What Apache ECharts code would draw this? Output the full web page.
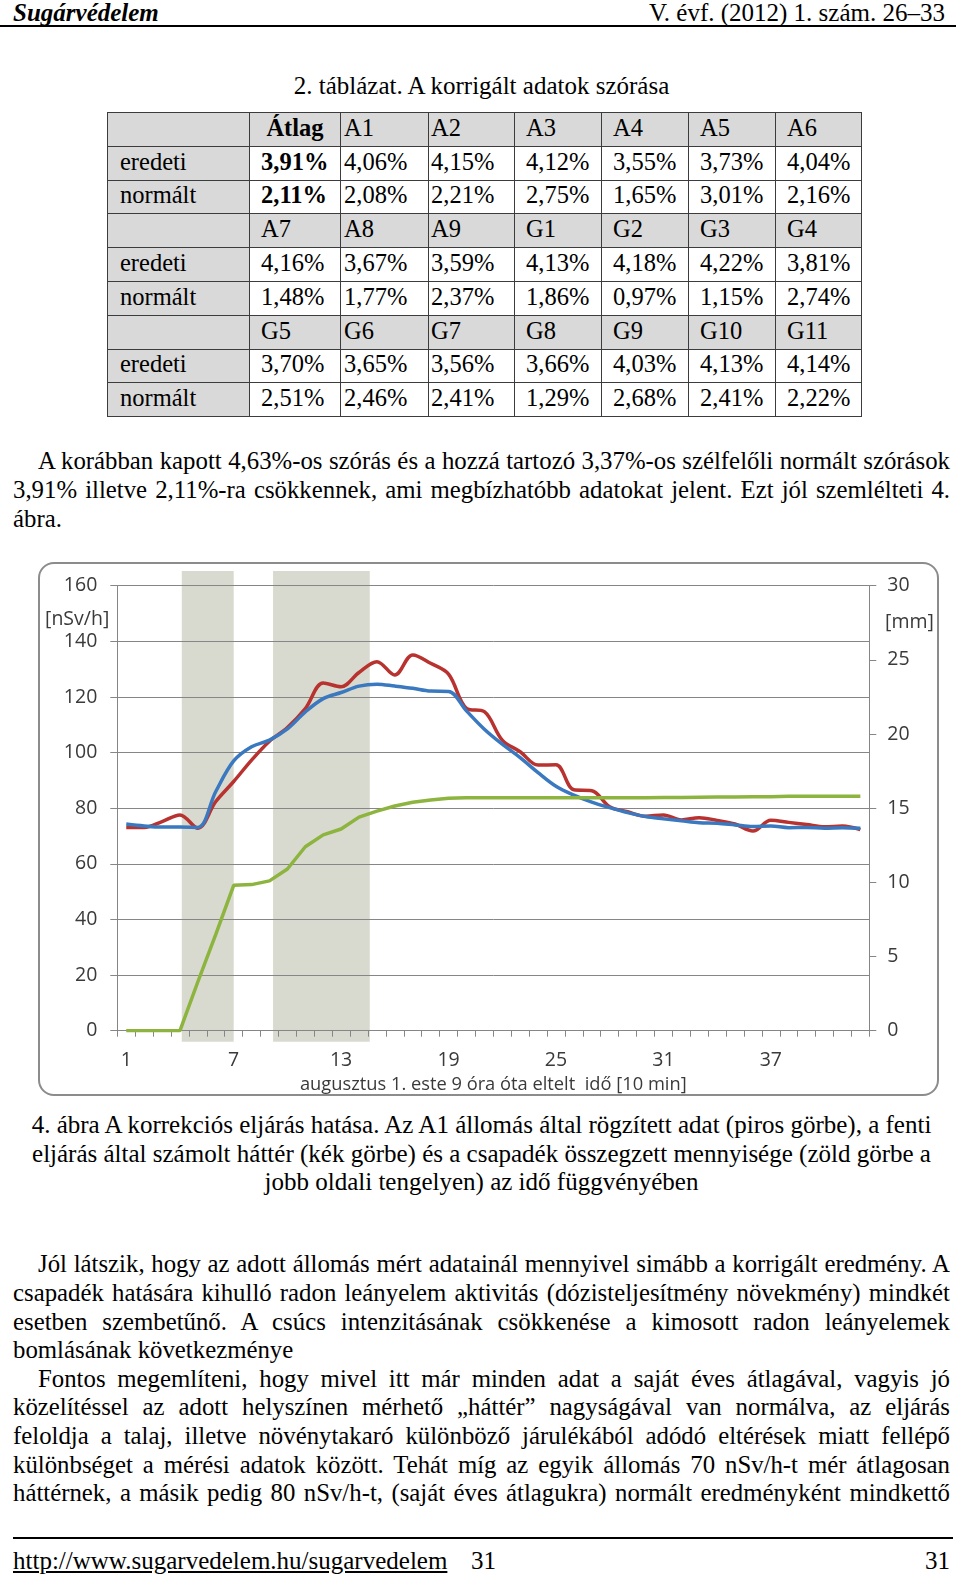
<!DOCTYPE html>
<html>
<head>
<meta charset="utf-8">
<script src="https://cdn.jsdelivr.net/npm/echarts@6/dist/echarts.min.js"></script>
<style>
  html, body { margin:0; padding:0; background:#fff; }
  #page { position:relative; width:960px; height:1576px; overflow:hidden; font-family:"Liberation Serif","Times New Roman",serif; color:#000; }
  .abs { position:absolute; white-space:nowrap; }
  .t { font-size:25px; line-height:29px; }
  .line { position:absolute; left:13px; width:937px; font-size:24.8px; line-height:29px; text-align:justify; text-align-last:justify; white-space:nowrap; word-spacing:-2px; }
  .line.ind { left:38px; width:912px; }
  .line.last { text-align-last:left; word-spacing:0; }
  .center { position:absolute; left:13px; width:937px; font-size:25px; line-height:29px; text-align:center; white-space:nowrap; }
  table { position:absolute; left:107px; top:112px; border-collapse:collapse; font-size:24.5px; }
  tr { height:33.8px; }
  td { border:1.5px solid #3c3c3c; padding:0 0 3px 0; line-height:28px; vertical-align:middle; white-space:nowrap; }
  td.g { background:#d9d9d9; }
  td.b { font-weight:bold; }
  #chart { position:absolute; left:39px; top:561px; width:897px; height:535px; }
  #frame { position:absolute; left:38px; top:562px; width:901px; height:534px; box-sizing:border-box; border:2px solid #8c8c8c; border-radius:16px; pointer-events:none; }
</style>
</head>
<body>
<div id="page">
  <div class="abs t" style="left:13px; top:-2px; font-weight:bold; font-style:italic;">Sugárvédelem</div>
  <div class="abs t" style="right:15px; top:-2px;">V. évf. (2012) 1. szám. 26–33</div>
  <div class="abs" style="left:0; top:25px; width:956px; height:1.5px; background:#000;"></div>

  <div class="center" style="top:71px;">2. táblázat. A korrigált adatok szórása</div>
  <table id="tbl"></table>

  <div class="line ind" style="top:446px;">A korábban kapott 4,63%-os szórás és a hozzá tartozó 3,37%-os szélfelőli normált szórások</div>
  <div class="line" style="top:475px;">3,91% illetve 2,11%-ra csökkennek, ami megbízhatóbb adatokat jelent. Ezt jól szemlélteti 4.</div>
  <div class="line last" style="top:504px;">ábra.</div>

  <div id="chart"></div>
  <div id="frame"></div>

  <div class="center" style="top:1110px;">4. ábra A korrekciós eljárás hatása. Az A1 állomás által rögzített adat (piros görbe), a fenti</div>
  <div class="center" style="top:1139px;">eljárás által számolt háttér (kék görbe) és a csapadék összegzett mennyisége (zöld görbe a</div>
  <div class="center" style="top:1167px;">jobb oldali tengelyen) az idő függvényében</div>

  <div class="line ind" style="top:1249px;">Jól látszik, hogy az adott állomás mért adatainál mennyivel simább a korrigált eredmény. A</div>
  <div class="line" style="top:1278px;">csapadék hatására kihulló radon leányelem aktivitás (dózisteljesítmény növekmény) mindkét</div>
  <div class="line" style="top:1307px;">esetben szembetűnő. A csúcs intenzitásának csökkenése a kimosott radon leányelemek</div>
  <div class="line last" style="top:1335px;">bomlásának következménye</div>
  <div class="line ind" style="top:1364px;">Fontos megemlíteni, hogy mivel itt már minden adat a saját éves átlagával, vagyis jó</div>
  <div class="line" style="top:1392px;">közelítéssel az adott helyszínen mérhető „háttér” nagyságával van normálva, az eljárás</div>
  <div class="line" style="top:1421px;">feloldja a talaj, illetve növénytakaró különböző járulékából adódó eltérések miatt fellépő</div>
  <div class="line" style="top:1450px;">különbséget a mérési adatok között. Tehát míg az egyik állomás 70 nSv/h-t mér átlagosan</div>
  <div class="line" style="top:1478px;">háttérnek, a másik pedig 80 nSv/h-t, (saját éves átlagukra) normált eredményként mindkettő</div>

  <div class="abs" style="left:13px; top:1537px; width:940px; height:1.5px; background:#000;"></div>
  <div class="abs t" style="left:13px; top:1546px; text-decoration:underline;">http://www.sugarvedelem.hu/sugarvedelem</div>
  <div class="abs t" style="left:471px; top:1546px;">31</div>
  <div class="abs t" style="right:10px; top:1546px;">31</div>
</div>

<script>
// ---------- table data ----------
const tableHeads1 = ["Átlag", "A1", "A2", "A3", "A4", "A5", "A6"];
const tableEredeti1 = ["3,91%", "4,06%", "4,15%", "4,12%", "3,55%", "3,73%", "4,04%"];
const tableNormalt1 = ["2,11%", "2,08%", "2,21%", "2,75%", "1,65%", "3,01%", "2,16%"];
const tableHeads2 = ["A7", "A8", "A9", "G1", "G2", "G3", "G4"];
const tableEredeti2 = ["4,16%", "3,67%", "3,59%", "4,13%", "4,18%", "4,22%", "3,81%"];
const tableNormalt2 = ["1,48%", "1,77%", "2,37%", "1,86%", "0,97%", "1,15%", "2,74%"];
const tableHeads3 = ["G5", "G6", "G7", "G8", "G9", "G10", "G11"];
const tableEredeti3 = ["3,70%", "3,65%", "3,56%", "3,66%", "4,03%", "4,13%", "4,14%"];
const tableNormalt3 = ["2,51%", "2,46%", "2,41%", "1,29%", "2,68%", "2,41%", "2,22%"];

// ---------- chart data ----------
const categories = ["1","2","3","4","5","6","7","8","9","10","11","12","13","14","15","16","17","18","19","20","21",
  "22","23","24","25","26","27","28","29","30","31","32","33","34","35","36","37","38","39","40","41","42"];
// A1 station measured dose rate [nSv/h] (red)
const measured = [73.1, 73.1, 75.2, 77.6, 72.8, 82.4, 89.6, 97.3, 104.1, 109.0, 115.8, 125.0, 123.7, 128.8, 132.7, 127.9,
  135.1, 132.1, 128.2, 115.9, 114.7, 104.5, 100.3, 95.5, 95.6, 86.6, 86.3, 80.5, 78.7, 77.1, 77.6, 75.8, 76.6, 75.6,
  74.3, 71.8, 75.7, 74.9, 74.1, 73.3, 73.6, 72.3];
// computed background [nSv/h] (blue)
const background = [74.3, 73.6, 73.2, 73.2, 73.1, 86.0, 97.0, 102.1, 104.5, 108.5, 114.6, 119.4, 121.6, 123.9, 124.6, 123.9,
  123.1, 122.1, 122.0, 115.0, 108.4, 103.0, 98.2, 92.8, 87.9, 84.7, 82.2, 80.2, 78.4, 77.0, 76.2, 75.5, 74.8, 74.6,
  74.0, 73.4, 73.6, 73.0, 73.1, 72.8, 73.0, 72.8];
// cumulative precipitation [mm] (green, right axis)
const precipitation = [0, 0, 0, 0, 3.3, 6.5, 9.8, 9.85, 10.1, 10.9, 12.4, 13.2, 13.6, 14.4, 14.8, 15.15, 15.4, 15.55, 15.67,
  15.7, 15.7, 15.7, 15.7, 15.7, 15.7, 15.7, 15.7, 15.7, 15.7, 15.7, 15.72, 15.72, 15.74, 15.75, 15.76, 15.78, 15.78,
  15.8, 15.8, 15.8, 15.8, 15.8];
// shaded rain periods, in category positions (start, end)
const rainBands = [[4.1, 7.0], [9.2, 14.6]];
const leftTicks = { min: 0, max: 160, interval: 20 };
const rightTicks = { min: 0, max: 30, interval: 5 };

// ---------- build table ----------
(function () {
  const colW = [142, 91, 88, 86, 87, 87, 87, 86];
  const padL = [12, 11, 3, 2, 11, 11, 11, 11];
  const blocks = [
    [tableHeads1, tableEredeti1, tableNormalt1],
    [tableHeads2, tableEredeti2, tableNormalt2],
    [tableHeads3, tableEredeti3, tableNormalt3]
  ];
  const tbl = document.getElementById('tbl');
  let html = '<colgroup>' + colW.map(w => '<col style="width:' + w + 'px">').join('') + '</colgroup>';
  blocks.forEach((b, bi) => {
    const rows = [["", b[0]], ["eredeti", b[1]], ["normált", b[2]]];
    rows.forEach((r, ri) => {
      html += '<tr>';
      html += '<td class="g" style="padding-left:' + padL[0] + 'px">' + r[0] + '</td>';
      r[1].forEach((v, ci) => {
        let cls = ri === 0 ? 'g' : '';
        if (bi === 0 && ci === 0) cls += ' b';
        let style = 'padding-left:' + padL[ci + 1] + 'px';
        if (bi === 0 && ri === 0 && ci === 0) style = 'text-align:center';
        html += '<td class="' + cls + '" style="' + style + '">' + v + '</td>';
      });
      html += '</tr>';
    });
  });
  tbl.innerHTML = html;
})();

// ---------- chart ----------
const chart = echarts.init(document.getElementById('chart'), null, { renderer: 'canvas' });
const axisGray = '#868686';
const labelFont = { fontFamily: 'Open Sans', fontSize: 19.5, color: '#3a3a3a' };

const option = {
  animation: false,
  backgroundColor: 'transparent',
  grid: [
    { left: 78.3, right: 66.7, top: 24.7, bottom: 65.3, containLabel: false, outerBoundsMode: 'none' },
    { left: 78.3, right: 66.7, top: 10, bottom: 54.3, containLabel: false, outerBoundsMode: 'none' }
  ],
  xAxis: [
    {
      type: 'category', gridIndex: 0, data: categories, boundaryGap: true,
      axisLine: { show: true, lineStyle: { color: axisGray, width: 1 } },
      axisTick: { show: true, interval: 0, length: 6, lineStyle: { color: axisGray } },
      axisLabel: Object.assign({ interval: 5, margin: 20 }, labelFont),
      splitLine: { show: false },
      name: 'augusztus 1. este 9 óra óta eltelt  idő [10 min]',
      nameLocation: 'middle', nameGap: 44,
      nameTextStyle: { fontFamily: 'Open Sans', fontSize: 18.3, color: '#3a3a3a' }
    },
    { type: 'value', gridIndex: 1, min: 0.5, max: 42.5, show: false }
  ],
  yAxis: [
    {
      type: 'value', gridIndex: 0, min: leftTicks.min, max: leftTicks.max, interval: leftTicks.interval,
      axisLine: { show: true, lineStyle: { color: axisGray } },
      axisTick: { show: true, length: 7, lineStyle: { color: axisGray } },
      axisLabel: Object.assign({ margin: 20 }, labelFont),
      splitLine: { show: true, lineStyle: { color: axisGray, width: 1 } }
    },
    {
      type: 'value', gridIndex: 0, position: 'right', min: rightTicks.min, max: rightTicks.max, interval: rightTicks.interval,
      axisLine: { show: true, lineStyle: { color: axisGray } },
      axisTick: { show: true, length: 7, lineStyle: { color: axisGray } },
      axisLabel: Object.assign({ margin: 18 }, labelFont),
      splitLine: { show: false }
    },
    { type: 'value', gridIndex: 1, min: 0, max: 1, show: false }
  ],
  graphic: [
    { type: 'text', left: 6, top: 48, style: { text: '[nSv/h]', font: '19.5px "Open Sans"', fill: '#3a3a3a' } },
    { type: 'text', left: 846, top: 51, style: { text: '[mm]', font: '19.5px "Open Sans"', fill: '#3a3a3a' } }
  ],
  series: [
    {
      type: 'custom', xAxisIndex: 1, yAxisIndex: 2, z: -1, silent: true,
      data: rainBands,
      encode: { x: [0, 1] },
      renderItem: function (params, api) {
        const p1 = api.coord([api.value(0), 1]);
        const p2 = api.coord([api.value(1), 0]);
        return { type: 'rect', shape: { x: p1[0], y: p1[1], width: p2[0] - p1[0], height: p2[1] - p1[1] },
          style: { fill: '#d8dacf' } };
      }
    },
    {
      name: 'mért', type: 'line', xAxisIndex: 0, yAxisIndex: 0, data: measured, smooth: 0.35,
      symbol: 'none', lineStyle: { color: '#b8322f', width: 3.5 }, z: 3
    },
    {
      name: 'háttér', type: 'line', xAxisIndex: 0, yAxisIndex: 0, data: background, smooth: 0.35,
      symbol: 'none', lineStyle: { color: '#3a78bf', width: 3.5 }, z: 4
    },
    {
      name: 'csapadék', type: 'line', xAxisIndex: 0, yAxisIndex: 1, data: precipitation, smooth: false,
      symbol: 'none', lineStyle: { color: '#8cb43f', width: 3.5 }, z: 5
    }
  ]
};
chart.setOption(option);
</script>
</body>
</html>
